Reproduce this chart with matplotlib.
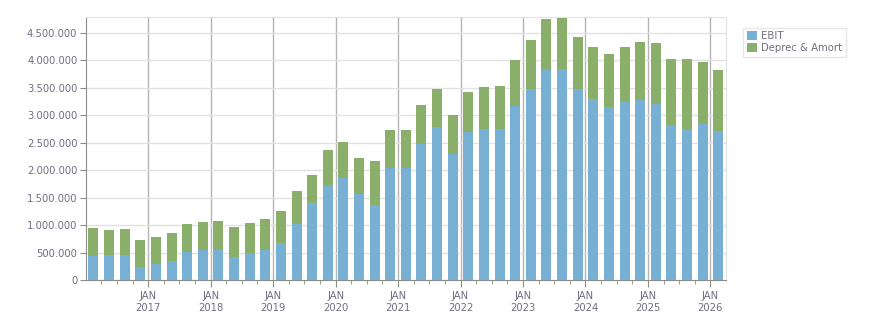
import numpy as np
import matplotlib.pyplot as plt
from matplotlib.ticker import FuncFormatter, MultipleLocator

# quarterly values, Q1 2016 .. Q1 2026
total = [946, 910, 928, 728, 783, 856, 1019, 1056, 1074, 965, 1038, 1110,
         1256, 1620, 1911, 2367, 2512, 2221, 2166, 2731, 2731, 3186, 3477, 3004,
         3422, 3513, 3532, 4005, 4369, 4751, 4769, 4424, 4242, 4114, 4242, 4333,
         4314, 4023, 4023, 3969, 3823]
ebit = [443, 455, 455, 237, 291, 346, 510, 546, 546, 419, 492, 546,
        674, 1019, 1402, 1729, 1857, 1565, 1365, 2039, 2039, 2476, 2785, 2294,
        2694, 2749, 2749, 3167, 3477, 3823, 3841, 3477, 3295, 3149, 3246, 3283,
        3210, 2822, 2749, 2846, 2712]
years = list(range(2017, 2027))

ebit = np.array(ebit) * 1000
dep = np.array(total) * 1000 - ebit

blue = '#77b0d2'
green = '#89af6b'
txt = '#6e6e80'

fig = plt.figure(figsize=(8.76, 3.13), dpi=100)
ax = fig.add_axes([0.0978, 0.1054, 0.7310, 0.8393])

x = np.arange(len(ebit)) + 0.5
ax.bar(x, ebit, width=0.64, color=blue, label='EBIT', zorder=3)
ax.bar(x, dep, width=0.64, bottom=ebit, color=green, label='Deprec & Amort', zorder=3)

ax.set_xlim(0, len(ebit))
ax.set_ylim(0, 4780000)

ax.yaxis.set_major_locator(MultipleLocator(500000))
ax.yaxis.set_major_formatter(FuncFormatter(lambda v, p: f'{int(v):,}'.replace(',', '.')))
ax.set_xticks([4 * (y - 2016) for y in years])
ax.set_xticklabels([f'JAN\n{y}' for y in years])
ax.set_xticks(np.arange(1, len(ebit)), minor=True)

ax.grid(axis='y', color='#e2e2e2', linewidth=1, zorder=0)
ax.grid(axis='x', which='major', color='#b4b4b4', linewidth=1, zorder=0)

for s in ['left', 'bottom']:
    ax.spines[s].set_color('#8c8c8c')
for s in ['top', 'right']:
    ax.spines[s].set_color('#e2e2e2')

ax.tick_params(axis='both', which='both', colors='#8c8c8c', labelcolor=txt, labelsize=7.2)
ax.tick_params(axis='x', which='major', length=5, pad=3)
ax.tick_params(axis='x', which='minor', length=3)
ax.tick_params(axis='y', length=4, pad=2)

leg = ax.legend(loc='upper left', bbox_to_anchor=(1.027, 0.96), frameon=True, fancybox=False,
                fontsize=7.3, handlelength=1.0, handleheight=1.0, handletextpad=0.4,
                borderpad=0.35, labelspacing=0.2, borderaxespad=0)
leg.get_frame().set_edgecolor('#e0e0e0')
leg.get_frame().set_linewidth(1)
for t in leg.get_texts():
    t.set_color(txt)

fig.savefig('out.png', dpi=100)
